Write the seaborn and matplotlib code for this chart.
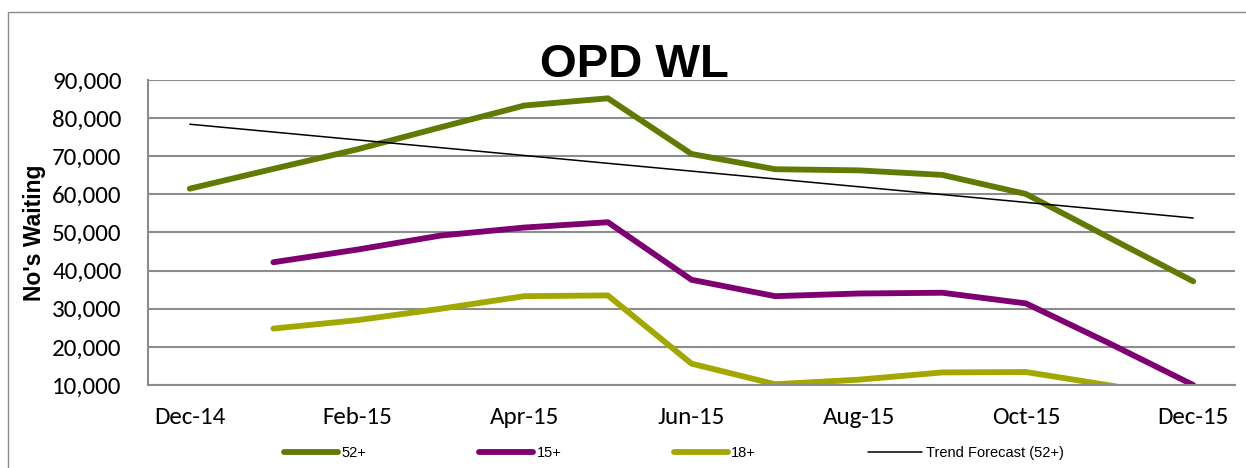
import numpy as np
import pandas as pd
import matplotlib
matplotlib.use("Agg")
import matplotlib.pyplot as plt
from matplotlib.patches import Rectangle
import seaborn as sns

# ---- data ----
months = ["Dec-14", "Jan-15", "Feb-15", "Mar-15", "Apr-15", "May-15", "Jun-15",
          "Jul-15", "Aug-15", "Sep-15", "Oct-15", "Nov-15", "Dec-15"]
wait_52 = [61500, 66700, 71800, 77600, 83300, 85200, 70600,
           66600, 66300, 65100, 60100, 48600, 37200]
wait_15 = [np.nan, 42200, 45500, 49200, 51300, 52700, 37600,
           33300, 34000, 34200, 31400, 20900, 10000]
wait_18 = [np.nan, 24800, 27000, 30000, 33300, 33500, 15600,
           10200, 11400, 13300, 13400, 9900, 6000]
trend_months = ["Dec-14", "Dec-15"]
trend_52 = [78400, 53800]
tick_labels = ["Dec-14", "Feb-15", "Apr-15", "Jun-15", "Aug-15", "Oct-15", "Dec-15"]

colors = {"52+": "#607A04", "15+": "#7F0070", "18+": "#A2A800",
          "Trend Forecast (52+)": "#000000"}

sns.set_style("white")
plt.rcParams["font.family"] = ["Carlito", "Open Sans", "DejaVu Sans"]
plt.rcParams["text.color"] = "black"
plt.rcParams["axes.labelcolor"] = "black"

W, H = 1246, 468
fig = plt.figure(figsize=(W / 100, H / 100), dpi=100)
ax = fig.add_axes([148 / W, 1 - 385 / H, (1235 - 148) / W, (385 - 80) / H])

idx = {m: i for i, m in enumerate(months)}
df = pd.DataFrame({"x": list(range(len(months))) * 3,
                   "value": wait_52 + wait_15 + wait_18,
                   "series": ["52+"] * 13 + ["15+"] * 13 + ["18+"] * 13})
tdf = pd.DataFrame({"x": [idx[m] for m in trend_months], "value": trend_52,
                    "series": ["Trend Forecast (52+)"] * 2})

for name in ["52+", "15+", "18+"]:
    sub = df[df["series"] == name]
    sns.lineplot(data=sub, x="x", y="value", ax=ax, color=colors[name],
                 linewidth=4.2, sort=False, label=name, legend=False,
                 solid_capstyle="round", solid_joinstyle="round", zorder=3)
sns.lineplot(data=tdf, x="x", y="value", ax=ax, color="black", linewidth=1.1,
             sort=False, label="Trend Forecast (52+)", legend=False, zorder=4)

ax.set_xlim(-0.5, 12.5)
ax.set_ylim(10000, 90000)
ax.set_yticks(np.arange(10000, 90001, 10000))
ax.set_yticklabels([f"{v:,}" for v in range(10000, 90001, 10000)])
ax.set_xticks([idx[m] for m in tick_labels])
ax.set_xticklabels(tick_labels)
ax.tick_params(axis="both", length=0, labelsize=18, colors="black")
ax.tick_params(axis="y", pad=19)
ax.tick_params(axis="x", pad=16)

ax.grid(axis="y", color="#8C8C8C", linewidth=1.5, zorder=1)
ax.grid(axis="x", visible=False)
ax.set_axisbelow(True)
for s in ["top", "right"]:
    ax.spines[s].set_visible(False)
for s in ["left", "bottom"]:
    ax.spines[s].set_color("#8C8C8C")
    ax.spines[s].set_linewidth(1.5)
    ax.spines[s].set_zorder(5)

ax.set_xlabel("")
ax.set_ylabel("No's Waiting", fontsize=16.5, fontweight="bold", color="black",
              family=["Liberation Sans", "DejaVu Sans"])
ax.yaxis.set_label_coords(-0.094, 0.5)

fig.text(634 / W, 1 - 77 / H, "OPD WL", ha="center", va="baseline", color="black",
         fontsize=34, fontweight="bold", family=["Liberation Sans", "DejaVu Sans"])

handles, labels = ax.get_legend_handles_labels()
leg = fig.legend(handles, labels, loc="center left", ncol=4,
                 bbox_to_anchor=(284 / W, 1 - 453 / H), frameon=False,
                 borderpad=0, borderaxespad=0, handlelength=3.7,
                 handletextpad=0.25, columnspacing=7.7,
                 prop={"family": ["Liberation Sans", "DejaVu Sans"], "size": 10.5})
for t in leg.get_texts():
    t.set_color("black")

fig.add_artist(Rectangle((8 / W, -0.1), 1.2, 1 - 12 / H + 0.1,
                         transform=fig.transFigure, fill=False,
                         edgecolor="#8C8C8C", linewidth=1.0))

fig.savefig("out.png", dpi=100)
